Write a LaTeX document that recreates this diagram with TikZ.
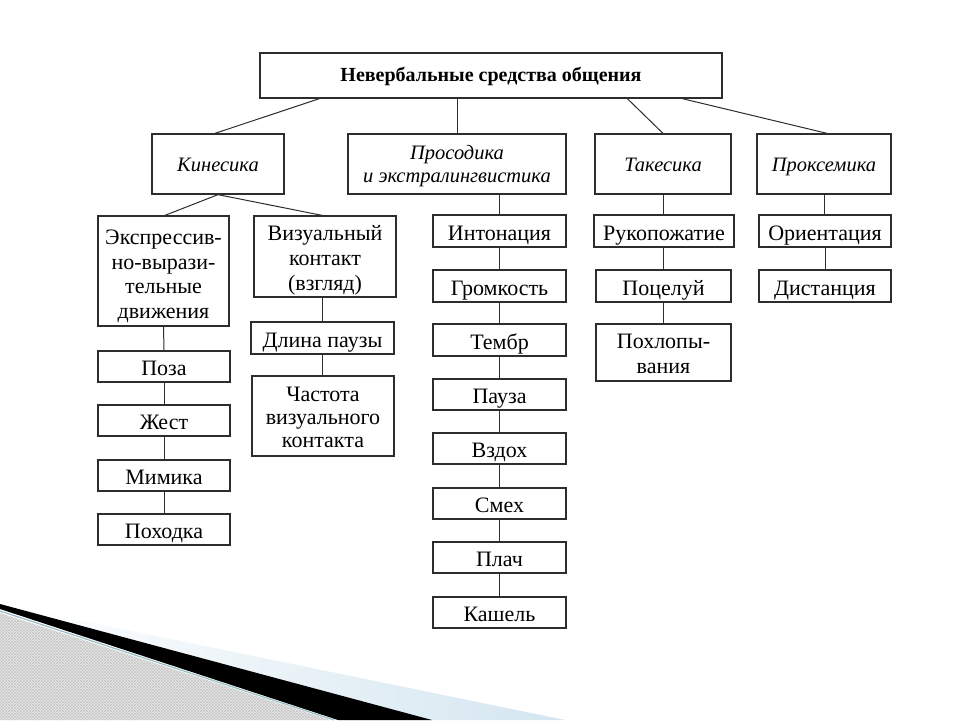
\documentclass[tikz,border=0pt]{standalone}
\usepackage{fontspec}
\setmainfont{Liberation Serif}
\usetikzlibrary{patterns}
\definecolor{lineclr}{RGB}{45,45,45}
\definecolor{wedgeblue}{RGB}{212,230,240}
\definecolor{tealline}{RGB}{150,190,195}
\newcommand\boxtext[2][-4.5pt]{\raisebox{#1}[\height][\depth]{\begin{tabular}{@{}c@{}}#2\end{tabular}}}
\tikzset{
  box/.style={draw=lineclr, line width=1.3pt, fill=white, inner sep=0pt, align=center,
    font=\fontsize{22}{24.5}\selectfont},
  headbox/.style={box, font=\itshape\fontsize{20.5}{23}\selectfont},
  titlebox/.style={box, font=\bfseries\fontsize{20}{22}\selectfont},
  conn/.style={draw=lineclr, line width=1pt}
}
\begin{document}
\begin{tikzpicture}[x=1pt,y=-1pt]
\useasboundingbox (0,0) rectangle (960,720);
\fill[white] (0,0) rectangle (960,720);
% decorative corner
\shade[left color=white, right color=wedgeblue] (0,604) -- (565,720) -- (420,720) -- cycle;
\fill[black] (0,604) -- (432,720) -- (338,720) -- (0,609) -- cycle;
\fill[gray!18] (0,613) -- (330,720) -- (0,720) -- cycle;
\fill[pattern=crosshatch, pattern color=gray!45] (0,613) -- (330,720) -- (0,720) -- cycle;
\draw[tealline, line width=1.2pt] (0,611) -- (334,720);
% level 1
\node[titlebox, minimum width=462pt, minimum height=45pt] (top) at (491,75.5) {\boxtext[-1.5pt]{Невербальные средства общения}};
% level 2
\node[headbox, minimum width=132pt, minimum height=60pt] (kin) at (218,164) {\boxtext[-3pt]{Кинесика}};
\node[headbox, minimum width=218pt, minimum height=60pt] (pros) at (457,164) {\boxtext[-2.5pt]{Просодика\\и экстралингвистика}};
\node[headbox, minimum width=136pt, minimum height=60pt] (tak) at (663,164) {\boxtext[-3pt]{Такесика}};
\node[headbox, minimum width=134pt, minimum height=60pt] (prox) at (824,164) {\boxtext[-3pt]{Проксемика}};
% kinesics
\node[box, minimum width=131pt, minimum height=110pt] (expr) at (163.5,271) {\boxtext[-5.5pt]{Экспрессив-\\но-вырази-\\тельные\\движения}};
\node[box, minimum width=142pt, minimum height=81pt, font=\fontsize{22}{25.2}\selectfont] (viz) at (325,256.5) {\boxtext[-4pt]{Визуальный\\контакт\\(взгляд)}};
\node[box, minimum width=132pt, minimum height=31pt] (poza) at (164,366.5) {\boxtext{Поза}};
\node[box, minimum width=132pt, minimum height=31pt] (zhest) at (164,420.5) {\boxtext{Жест}};
\node[box, minimum width=132pt, minimum height=31pt] (mim) at (164,475.5) {\boxtext{Мимика}};
\node[box, minimum width=132pt, minimum height=31pt] (poh) at (164,529.5) {\boxtext{Походка}};
\node[box, minimum width=143pt, minimum height=32pt] (dlina) at (322.5,338) {\boxtext{Длина паузы}};
\node[box, minimum width=142pt, minimum height=80pt, font=\fontsize{22}{23}\selectfont] (chast) at (323,416) {\boxtext[-4pt]{Частота\\визуального\\контакта}};
% prosody
\node[box, minimum width=133pt, minimum height=32pt] (int) at (499.5,231) {\boxtext{Интонация}};
\node[box, minimum width=133pt, minimum height=32pt] (grom) at (499.5,286) {\boxtext{Громкость}};
\node[box, minimum width=133pt, minimum height=32pt] (temb) at (499.5,340) {\boxtext{Тембр}};
\node[box, minimum width=133pt, minimum height=31pt] (pauz) at (499.5,394.5) {\boxtext{Пауза}};
\node[box, minimum width=133pt, minimum height=31pt] (vzd) at (499.5,448.5) {\boxtext{Вздох}};
\node[box, minimum width=133pt, minimum height=31pt] (smeh) at (499.5,503.5) {\boxtext{Смех}};
\node[box, minimum width=133pt, minimum height=31pt] (plach) at (499.5,557.5) {\boxtext{Плач}};
\node[box, minimum width=133pt, minimum height=31pt] (kash) at (499.5,612.5) {\boxtext{Кашель}};
% takesics
\node[box, minimum width=140pt, minimum height=32pt] (ruk) at (664,231) {\boxtext{Рукопожатие}};
\node[box, minimum width=135pt, minimum height=32pt] (poc) at (663.5,286) {\boxtext{Поцелуй}};
\node[box, minimum width=135pt, minimum height=57pt, font=\fontsize{22}{25}\selectfont] (pohl) at (663.5,352.5) {\boxtext[-3pt]{Похлопы-\\вания}};
% proxemics
\node[box, minimum width=132pt, minimum height=32pt] (ori) at (825,231) {\boxtext{Ориентация}};
\node[box, minimum width=132pt, minimum height=32pt] (dist) at (825,286) {\boxtext{Дистанция}};
% connectors
\draw[conn] ([xshift=60pt]top.south west) -- ([xshift=-3pt]kin.north);
\draw[conn] (top.south -| pros.north) -- (pros.north);
\draw[conn] ([xshift=368pt]top.south west) -- (tak.north);
\draw[conn] ([xshift=423pt]top.south west) -- ([xshift=3pt]prox.north);
\draw[conn] (kin.south) -- ([xshift=1.5pt]expr.north);
\draw[conn] (kin.south) -- ([xshift=-3pt]viz.north);
\draw[conn] (expr.south) -- (poza.north);
\draw[conn] (poza.south) -- (zhest.north);
\draw[conn] (zhest.south) -- (mim.north);
\draw[conn] (mim.south) -- (poh.north);
\draw[conn] (dlina.north) -- (dlina.north |- viz.south);
\draw[conn] (dlina.south) -- (chast.north -| dlina.south);
\draw[conn] (int.north) -- (int.north |- pros.south);
\draw[conn] (int.south) -- (grom.north);
\draw[conn] (grom.south) -- (temb.north);
\draw[conn] (temb.south) -- (pauz.north);
\draw[conn] (pauz.south) -- (vzd.north);
\draw[conn] (vzd.south) -- (smeh.north);
\draw[conn] (smeh.south) -- (plach.north);
\draw[conn] (plach.south) -- (kash.north);
\draw[conn] (tak.south) -- (ruk.north -| tak.south);
\draw[conn] (ruk.south -| poc.north) -- (poc.north);
\draw[conn] (poc.south) -- (pohl.north);
\draw[conn] (prox.south) -- (ori.north -| prox.south);
\draw[conn] (ori.south -| dist.north) -- (dist.north);
\end{tikzpicture}
\end{document}
